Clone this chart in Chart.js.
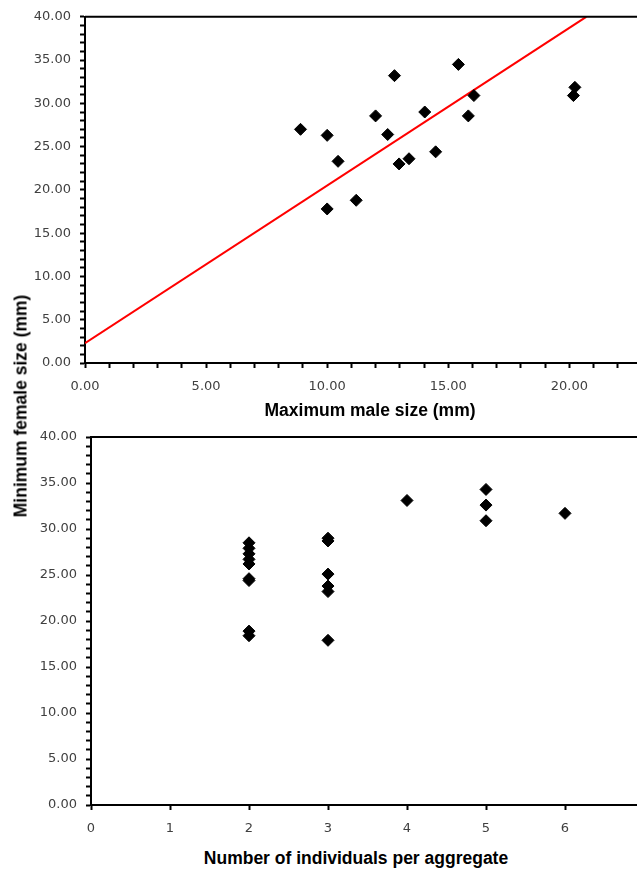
<!DOCTYPE html>
<html>
<head>
<meta charset="utf-8">
<script src="https://cdn.jsdelivr.net/npm/chart.js@4.4.1/dist/chart.umd.min.js"></script>
<style>
    html, body { margin: 0; padding: 0; background: #fff; }
    body { width: 637px; height: 873px; overflow: hidden; position: relative; }
    canvas { position: absolute; left: 0; }
    #topChart { top: 0; }
    #bottomChart { top: 420px; }
    .axis-title {
        position: absolute;
        font-family: "Liberation Sans", Arial, sans-serif;
        font-weight: bold;
        font-size: 17.5px;
        color: #000;
        white-space: nowrap;
        transform: translate(-50%, -50%);
    }
    #yTitle { left: 21px; top: 406px; transform: translate(-50%, -50%) rotate(-90deg); }
    #xTitleTop { left: 370px; top: 410px; }
    #xTitleBottom { left: 356px; top: 858px; }
</style>
</head>
<body>
<canvas id="topChart" width="720" height="400"></canvas>
<canvas id="bottomChart" width="720" height="420"></canvas>
<div class="axis-title" id="yTitle">Minimum female size (mm)</div>
<div class="axis-title" id="xTitleTop">Maximum male size (mm)</div>
<div class="axis-title" id="xTitleBottom">Number of individuals per aggregate</div>

<script>
// data
const maleSize   = [8.9, 10.0, 10.45, 10.0, 11.2, 12.0, 12.5, 12.78, 12.97, 13.38, 14.03, 14.48, 15.42, 15.83, 16.06, 20.17, 20.23];
const femaleSize = [27.0, 26.3, 23.3, 17.8, 18.8, 28.55, 26.4, 33.2, 23.0, 23.6, 29.0, 24.4, 34.5, 28.55, 30.9, 30.9, 31.85];

const trendX = [0, 20.7];
const trendY = [2.3, 40];

const aggregateSize   = [2, 2, 2, 2, 2, 2, 2, 2, 2, 3, 3, 3, 3, 3, 3, 4, 5, 5, 5, 6];
const aggregateFemale = [28.5, 27.9, 27.3, 26.7, 26.2, 24.6, 24.4, 18.9, 18.4, 29.0, 28.7, 25.1, 23.8, 23.2, 17.9, 33.1, 34.3, 32.6, 30.9, 31.7];

const tickFont = { family: '"DejaVu Sans", Verdana, sans-serif', size: 13 };
const tickColor = '#404040';

const toPoints = (xs, ys) => xs.map((x, i) => ({ x: x, y: ys[i] }));
const fiveLabel = v => (v % 5 === 0 ? v.toFixed(2) : '');

// top + right border of plot area
const framePlugin = {
    id: 'frame',
    afterDraw(chart) {
        const a = chart.chartArea, ctx = chart.ctx;
        ctx.save();
        ctx.strokeStyle = '#000';
        ctx.lineWidth = 2;
        ctx.beginPath();
        ctx.moveTo(a.left, a.top);
        ctx.lineTo(a.right, a.top);
        ctx.lineTo(a.right, a.bottom);
        ctx.stroke();
        ctx.restore();
    }
};

function axis(opts) {
    return Object.assign({
        type: 'linear',
        border: { display: true, color: '#000', width: 2 },
        grid: { drawOnChartArea: false, drawTicks: true, tickLength: 5, tickWidth: 2, tickColor: '#000' }
    }, opts);
}

function diamonds(data) {
    return {
        type: 'scatter',
        data: data,
        pointStyle: 'rectRot',
        pointRadius: 6,
        pointHoverRadius: 6,
        backgroundColor: '#000',
        borderColor: '#000',
        borderWidth: 1
    };
}

function makeTop() {
    const ctx = document.getElementById('topChart').getContext('2d');
    new Chart(ctx, {
        type: 'scatter',
        data: {
            datasets: [
                diamonds(toPoints(maleSize, femaleSize)),
                {
                    type: 'line',
                    data: toPoints(trendX, trendY),
                    borderColor: '#ff0000',
                    borderWidth: 2,
                    pointRadius: 0,
                    fill: false
                }
            ]
        },
        options: {
            responsive: false,
            animation: false,
            layout: { padding: { top: 14, right: 29, left: 0, bottom: 0 } },
            plugins: { legend: { display: false }, tooltip: { enabled: false } },
            scales: {
                x: axis({
                    min: 0, max: 25,
                    afterFit: s => { s.height = 37; },
                    ticks: { stepSize: 1, autoSkip: false, maxRotation: 0, padding: 11, color: tickColor, font: tickFont, callback: fiveLabel }
                }),
                y: axis({
                    min: 0, max: 40,
                    afterFit: s => { s.width = 85; },
                    ticks: { stepSize: 1, autoSkip: false, padding: 9, color: tickColor, font: tickFont, callback: fiveLabel }
                })
            }
        },
        plugins: [framePlugin]
    });
}

function makeBottom() {
    const ctx = document.getElementById('bottomChart').getContext('2d');
    new Chart(ctx, {
        type: 'scatter',
        data: { datasets: [diamonds(toPoints(aggregateSize, aggregateFemale))] },
        options: {
            responsive: false,
            animation: false,
            layout: { padding: { top: 17, right: 76, left: 0, bottom: 0 } },
            plugins: { legend: { display: false }, tooltip: { enabled: false } },
            scales: {
                x: axis({
                    min: 0, max: 7,
                    afterFit: s => { s.height = 35; },
                    ticks: { stepSize: 1, autoSkip: false, maxRotation: 0, padding: 11, color: tickColor, font: tickFont, callback: v => String(v) }
                }),
                y: axis({
                    min: 0, max: 40,
                    afterFit: s => { s.width = 91; },
                    ticks: { stepSize: 1, autoSkip: false, padding: 9, color: tickColor, font: tickFont, callback: fiveLabel }
                })
            }
        },
        plugins: [framePlugin]
    });
}

makeTop();
makeBottom();
</script>
</body>
</html>
